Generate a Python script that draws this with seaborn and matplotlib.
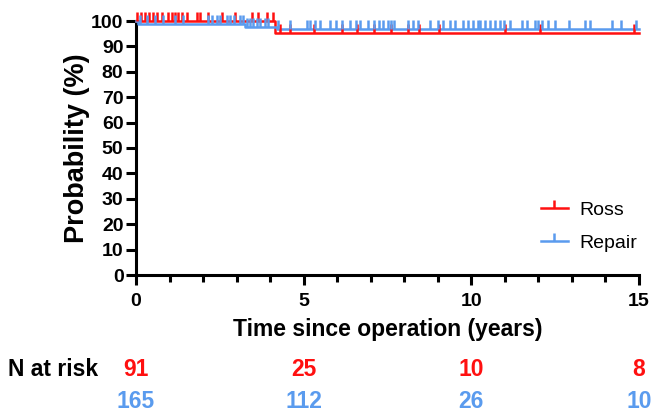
import numpy as np
import pandas as pd
import matplotlib
matplotlib.use("Agg")
import matplotlib.pyplot as plt
import seaborn as sns
from matplotlib.lines import Line2D
from matplotlib.ticker import MultipleLocator

# ---- data ----
groups = ["Ross", "Repair"]
ross_event_times = [0.0, 4.15, 15.0]
ross_surv = [100.0, 95.2, 95.2]
repair_event_times = [0.0, 0.05, 3.25, 4.2, 15.0]
repair_surv = [100.0, 98.9, 97.8, 96.8, 96.8]

ross_censor = [0.03, 0.15, 0.27, 0.39, 0.51, 0.63, 0.78, 0.96, 1.07, 1.16, 1.25,
               1.37, 1.52, 1.82, 1.91, 2.15, 2.57, 2.96, 3.46, 3.64, 3.91, 4.09,
               4.3, 4.6, 5.3, 6.15, 6.6, 7.1, 7.6, 8.1, 8.45, 9.05, 11.0, 12.05, 14.85]
repair_censor = [0.12, 0.32, 0.57, 0.82, 1.16, 1.41, 2.16, 2.28, 2.41, 2.51, 2.71,
                 2.81, 2.93, 3.1, 3.2, 3.3, 3.4, 3.5, 3.6, 3.7, 3.85, 3.95, 4.24,
                 4.6, 5.1, 5.2, 5.35, 5.5, 5.8, 5.95, 6.14, 6.39, 6.55, 6.69, 6.93,
                 7.1, 7.25, 7.37, 7.52, 7.6, 7.7, 8.1, 8.25, 8.4, 8.78, 9.0, 9.15,
                 9.37, 9.52, 9.76, 9.9, 10.05, 10.2, 10.27, 10.42, 10.57, 10.7,
                 10.85, 10.96, 11.16, 11.52, 11.66, 11.91, 12.0, 12.1, 12.3, 12.5,
                 12.9, 13.4, 13.55, 14.2, 14.45, 14.9]

risk_times = [0, 5, 10, 15]
ross_at_risk = [91, 25, 10, 8]
repair_at_risk = [165, 112, 26, 10]

colors = {"Ross": "#FF1010", "Repair": "#5A9BEE"}

def step_value(times, surv, t):
    idx = np.searchsorted(times, t, side="right") - 1
    return surv[max(idx, 0)]

df = pd.concat([
    pd.DataFrame({"time": ross_event_times, "surv": ross_surv, "group": "Ross"}),
    pd.DataFrame({"time": repair_event_times, "surv": repair_surv, "group": "Repair"}),
])

plt.rcParams["font.family"] = ["Liberation Sans", "DejaVu Sans"]
fig = plt.figure(figsize=(6.52, 4.13), dpi=100)
ax = fig.add_axes([136 / 652, 1 - 275 / 413, (639 - 136) / 652, (275 - 21) / 413])

sns.lineplot(data=df, x="time", y="surv", hue="group", palette=colors,
             drawstyle="steps-post", estimator=None, linewidth=1.8, ax=ax,
             legend=False, clip_on=False, zorder=3)

for g, ct, et, sv in [("Ross", ross_censor, ross_event_times, ross_surv),
                      ("Repair", repair_censor, repair_event_times, repair_surv)]:
    ys = [step_value(et, sv, t) for t in ct]
    ax.plot(ct, ys, linestyle="none", marker=2, markersize=6.5, markeredgewidth=1.8,
            color=colors[g], clip_on=False, zorder=4)

ax.set_xlim(0, 15)
ax.set_ylim(0, 100)
ax.xaxis.set_major_locator(MultipleLocator(5))
ax.xaxis.set_minor_locator(MultipleLocator(1))
ax.yaxis.set_major_locator(MultipleLocator(10))
for s in ["top", "right"]:
    ax.spines[s].set_visible(False)
for s in ["left", "bottom"]:
    ax.spines[s].set_linewidth(2.2)
ax.tick_params(axis="both", which="major", length=7, width=2.2, labelsize=14)
ax.tick_params(axis="y", which="major", pad=2)
ax.tick_params(axis="x", which="major", pad=6)
ax.tick_params(axis="x", which="minor", length=5, width=2.2)
for lab in ax.get_xticklabels() + ax.get_yticklabels():
    lab.set_fontweight("bold")
ax.set_xlabel("Time since operation (years)", fontsize=16.5, fontweight="bold", labelpad=6)
ax.set_ylabel("Probability (%)", fontsize=19.5, fontweight="bold", labelpad=1)

handles = [Line2D([0], [0], color=colors[g], lw=1.8, marker=2, markersize=6,
                  markeredgewidth=1.8) for g in groups]
ax.legend(handles, groups, loc="center left", bbox_to_anchor=(0.785, 0.19),
          frameon=False, fontsize=14, numpoints=1, handlelength=1.4,
          labelspacing=0.8, handletextpad=0.6, borderpad=0.0)

trans = matplotlib.transforms.blended_transform_factory(ax.transData, fig.transFigure)
fig.text(8 / 652, 1 - 369 / 413, "N at risk", fontsize=16.5, fontweight="bold",
         va="center", ha="left")
for t, a, b in zip(risk_times, ross_at_risk, repair_at_risk):
    ax.text(t, 1 - 369 / 413, str(a), transform=trans, ha="center", va="center",
            fontsize=16.5, fontweight="bold", color=colors["Ross"])
    ax.text(t, 1 - 402 / 413, str(b), transform=trans, ha="center", va="center",
            fontsize=16.5, fontweight="bold", color=colors["Repair"])

fig.savefig("out.png", dpi=100)
